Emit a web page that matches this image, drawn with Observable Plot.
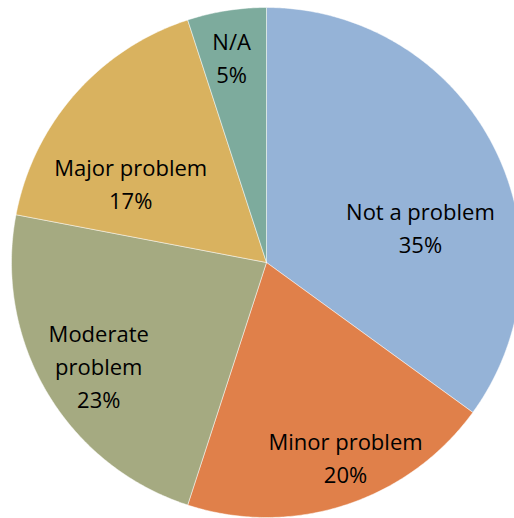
<!DOCTYPE html>
<html><head><meta charset="utf-8">
<script src="https://cdn.jsdelivr.net/npm/d3@7"></script>
<script src="https://cdn.jsdelivr.net/npm/@observablehq/plot@0.6"></script>
<style>body{margin:0;background:#fff;overflow:hidden}#chart{width:514px;height:518px;overflow:hidden}</style>
</head><body><div id="chart"></div>
<script>
const categories = ["Not a problem", "Minor problem", "Moderate problem", "Major problem", "N/A"];
const shares = [35, 20, 23, 17, 5];
const labelTexts = ["Not a problem", "Minor problem", "Moderate\nproblem", "Major problem", "N/A"];
const colors = ["#95B3D7", "#E0804A", "#A5AA81", "#D9B25F", "#7DAB9D"];
// label placement (layout only): radius fraction and angular shift in degrees
const labelRadius = [0.62, 0.82, 0.77, 0.62, 0.82];
const labelShift = [13.8, -4.2, -0.7, -10.6, -0.6];

const total = d3.sum(shares);
let cum = 0;
const slicePts = [];
const labels = [];
categories.forEach((c, i) => {
  const a0 = cum / total * 2 * Math.PI;
  cum += shares[i];
  const a1 = cum / total * 2 * Math.PI;
  slicePts.push({cat: c, x: 0, y: 0});
  const n = Math.max(2, Math.ceil((a1 - a0) / (Math.PI / 360)));
  for (let k = 0; k <= n; k++) {
    const a = a0 + (a1 - a0) * k / n;
    slicePts.push({cat: c, x: Math.sin(a), y: Math.cos(a)});
  }
  slicePts.push({cat: c, x: 0, y: 0});
  const am = (a0 + a1) / 2 + labelShift[i] * Math.PI / 180;
  labels.push({x: labelRadius[i] * Math.sin(am), y: labelRadius[i] * Math.cos(am),
               text: labelTexts[i] + "\n" + shares[i] + "%"});
});

const R = 255, cx = 266, cy = 262;
const chart = Plot.plot({
  width: 514, height: 518,
  margin: 0,
  x: {domain: [-1, 1], range: [cx - R, cx + R], axis: null},
  y: {domain: [-1, 1], range: [cy + R, cy - R], axis: null},
  color: {domain: categories, range: colors},
  style: {overflow: "hidden", background: "white"},
  marks: [
    Plot.line(slicePts, {x: "x", y: "y", z: "cat", fill: "cat", stroke: "white", strokeWidth: 0.8, strokeOpacity: 0.6, curve: "linear"}),
    Plot.text(labels, {x: "x", y: "y", text: "text", fontSize: 22, lineHeight: 1.5, fill: "#000",
      fontFamily: "'Open Sans', 'Liberation Sans', sans-serif", textAnchor: "middle", lineAnchor: "middle"})
  ]
});
document.getElementById("chart").appendChild(chart);
</script></body></html>
